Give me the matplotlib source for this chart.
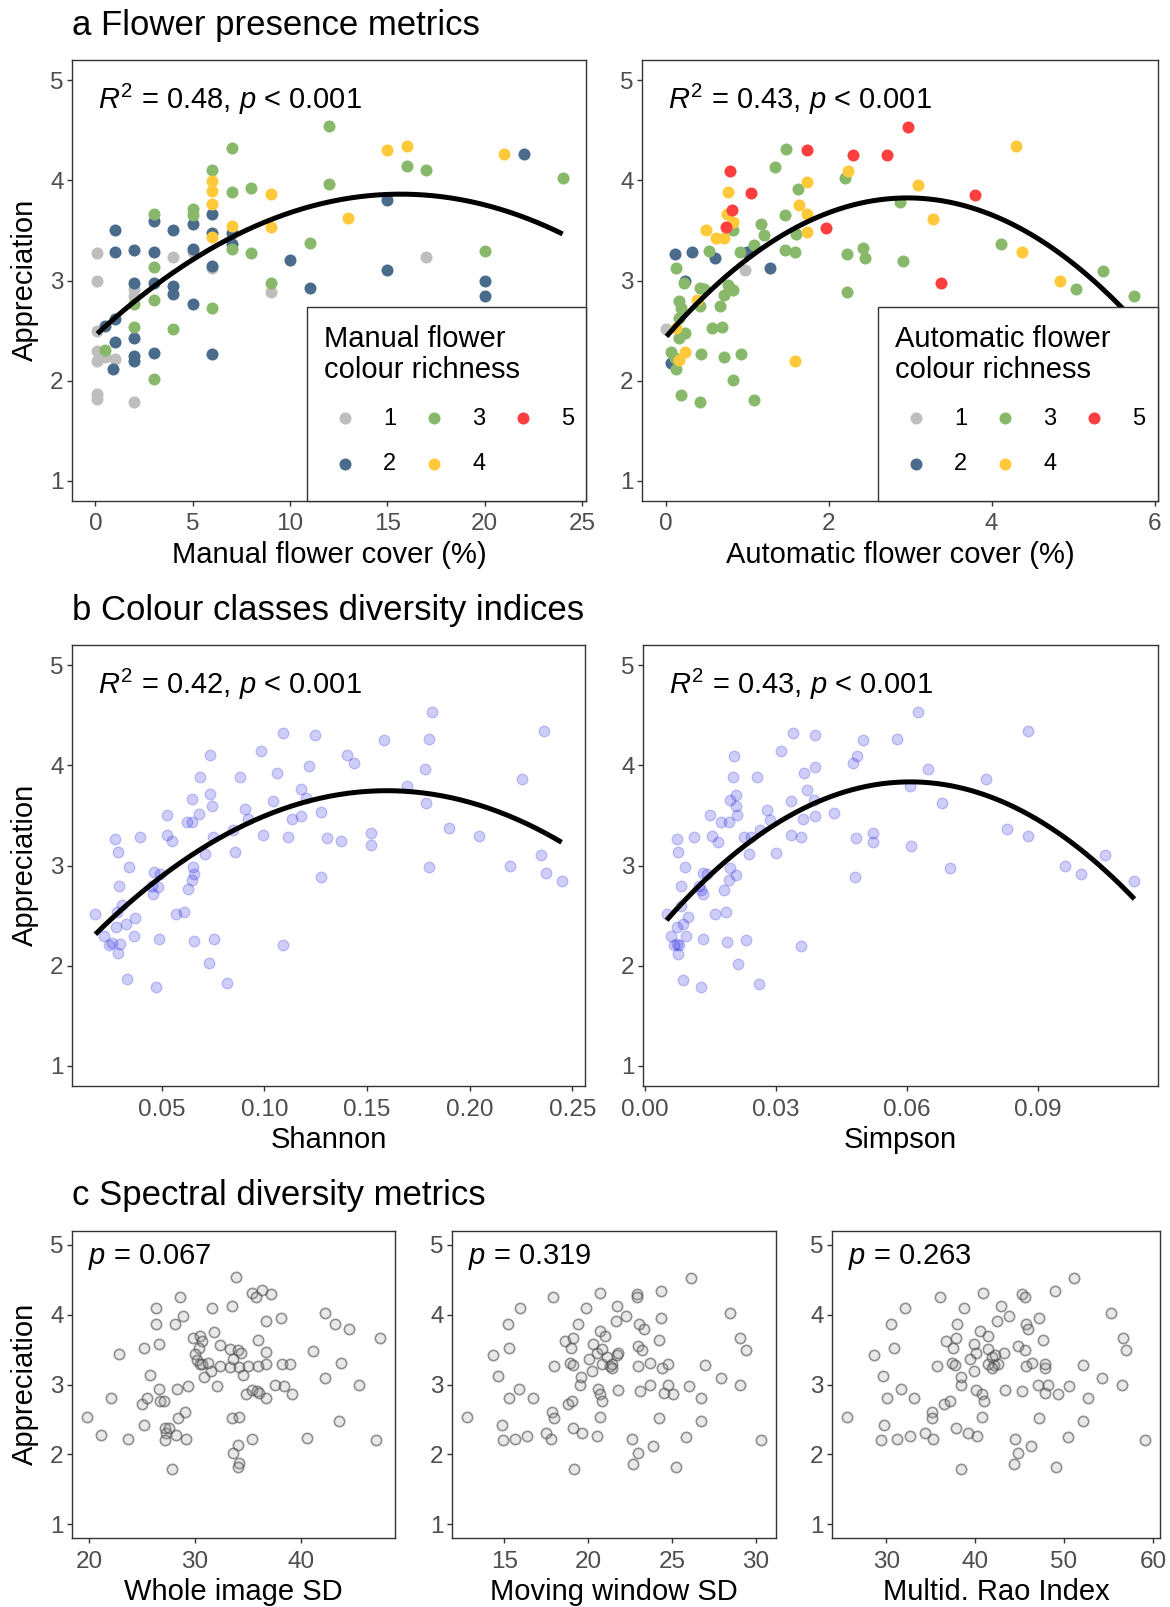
import matplotlib
matplotlib.use('Agg')
import matplotlib.pyplot as plt
from matplotlib.patches import Rectangle
import numpy as np

plt.rcParams['font.family'] = ['Liberation Sans', 'DejaVu Sans']
plt.rcParams['mathtext.fontset'] = 'custom'
plt.rcParams['mathtext.rm'] = 'Liberation Sans'
plt.rcParams['mathtext.it'] = 'Liberation Sans:italic'

# ---- data ---------------------------------------------------------------
# panel a (left): manual flower cover (%) vs appreciation, by colour richness class
manual_pts = {
    1: [(0.1, 3.27), (0.1, 3.0), (0.1, 2.5), (0.1, 2.3), (0.1, 2.2), (0.5, 2.24), (1, 2.22),
        (0.1, 1.87), (0.1, 1.82), (2, 1.79), (2, 2.92), (2, 2.85), (4, 3.23), (5, 3.28),
        (6, 3.12), (9, 2.89), (17, 3.23)],
    2: [(1, 3.5), (1, 3.28), (2, 3.3), (3, 3.28), (3, 3.59), (4, 3.5), (5, 3.56), (5, 3.31),
        (6, 3.66), (6, 3.47), (7, 3.47), (7, 3.36), (6, 3.14), (2, 2.98), (3, 2.98), (4, 2.95),
        (4, 2.87), (5, 2.77), (1, 2.62), (0.5, 2.55), (1, 2.39), (2, 2.43), (2, 2.25), (2, 2.2),
        (3, 2.28), (0.9, 2.12), (6, 2.27), (10, 3.2), (11, 2.93), (15, 3.8), (15, 3.1),
        (20, 3.0), (20, 2.85), (22, 4.26)],
    3: [(3, 3.66), (5, 3.71), (5, 3.65), (6, 4.1), (7, 4.32), (7, 3.88), (8, 3.92), (7, 3.31),
        (8, 3.27), (3, 3.13), (3, 2.81), (2, 2.77), (2, 2.54), (4, 2.52), (6, 2.73), (3, 2.02),
        (0.5, 2.31), (9, 2.98), (11, 3.37), (12, 4.54), (12, 3.96), (16, 4.14), (17, 4.1),
        (20, 3.29), (24, 4.02)],
    4: [(6, 3.99), (6, 3.89), (6, 3.76), (6, 3.43), (7, 3.54), (9, 3.86), (9, 3.53),
        (13, 3.62), (15, 4.3), (16, 4.34), (21, 4.26)],
    5: [],
}

# panel a (right): automatic flower cover (%)
auto_pts = {
    1: [(0.0, 2.52), (0.97, 3.10)],
    2: [(0.12, 3.26), (0.32, 3.28), (0.60, 3.22), (0.24, 3.0), (1.0, 3.28), (1.28, 3.12),
        (0.07, 2.18)],
    3: [(0.13, 3.12), (0.22, 2.98), (0.17, 2.80), (0.19, 2.73), (0.42, 2.93), (0.47, 2.92),
        (0.42, 2.75), (0.53, 3.29), (0.17, 2.63), (0.24, 2.48), (0.17, 2.43), (0.07, 2.29),
        (0.11, 2.23), (0.13, 2.12), (0.19, 1.86), (0.42, 1.79), (0.43, 2.27), (0.57, 2.53),
        (0.69, 2.54), (0.67, 2.75), (0.71, 2.86), (0.76, 2.96), (0.83, 2.91), (0.71, 2.24),
        (0.83, 2.01), (0.93, 2.27), (1.09, 1.81), (0.83, 3.50), (0.91, 3.28), (1.09, 3.35),
        (1.17, 3.56), (1.21, 3.45), (1.34, 4.13), (1.48, 4.31), (1.47, 3.65), (1.62, 3.91),
        (1.60, 3.46), (1.47, 3.30), (1.59, 3.28), (2.20, 4.02), (2.23, 3.26), (2.22, 2.89),
        (2.42, 3.32), (2.44, 3.22), (2.88, 3.78), (2.91, 3.19), (4.11, 3.36), (5.03, 2.92),
        (5.36, 3.09), (5.75, 2.85)],
    4: [(0.77, 3.88), (0.75, 3.66), (0.83, 3.58), (0.50, 3.50), (0.62, 3.42), (0.72, 3.42),
        (0.38, 2.81), (0.13, 2.53), (0.24, 2.29), (0.17, 2.21), (1.73, 3.98), (1.64, 3.75),
        (1.73, 3.66), (1.74, 3.48), (2.24, 4.09), (3.09, 3.95), (3.28, 3.61), (1.59, 2.20),
        (4.30, 4.34), (4.37, 3.28), (4.84, 3.0)],
    5: [(0.79, 4.09), (0.82, 3.70), (0.74, 3.53), (1.05, 3.87), (1.73, 4.30), (2.30, 4.25),
        (2.72, 4.25), (2.97, 4.53), (1.97, 3.52), (3.38, 2.98), (3.79, 3.85)],
}

class_colours = {1: '#BEBEBE', 2: '#4B6B8C', 3: '#88B86A', 4: '#FFC93A', 5: '#FF3E3E'}

# panel b: colour class diversity indices
shannon_pts = [
    (0.0176, 2.52), (0.0273, 3.26), (0.0285, 3.13), (0.0338, 2.99), (0.0293, 2.80),
    (0.0306, 2.61), (0.0281, 2.54), (0.0278, 2.39), (0.0327, 2.42), (0.0367, 2.48),
    (0.0362, 2.30), (0.0217, 2.30), (0.0241, 2.21), (0.0257, 2.23), (0.0294, 2.22),
    (0.0285, 2.13), (0.0330, 1.87), (0.0472, 1.79), (0.0395, 3.28), (0.0484, 2.27),
    (0.0460, 2.94), (0.0489, 2.92), (0.0451, 2.80), (0.0479, 2.79), (0.0456, 2.72),
    (0.0524, 3.50), (0.0524, 3.30), (0.0549, 3.24), (0.0568, 2.52), (0.0609, 2.54),
    (0.0626, 2.77), (0.0646, 3.66), (0.0621, 3.43), (0.0646, 3.43), (0.0686, 3.88),
    (0.0683, 3.51), (0.0654, 2.99), (0.0657, 2.92), (0.0646, 2.86), (0.0657, 2.25),
    (0.0710, 3.11), (0.0735, 4.10), (0.0735, 3.71), (0.0746, 3.59), (0.0751, 3.28),
    (0.0754, 2.27), (0.0732, 2.03), (0.0816, 1.83), (0.0848, 3.35), (0.0856, 3.13),
    (0.0880, 3.88), (0.0905, 3.56), (0.0921, 3.46), (0.0983, 4.14), (0.0991, 3.30),
    (0.1042, 3.64), (0.1062, 3.92), (0.1091, 4.32), (0.1091, 2.21), (0.1115, 3.28),
    (0.1132, 3.46), (0.1177, 3.76), (0.1180, 3.49), (0.1200, 3.67), (0.1217, 3.99),
    (0.1244, 4.30), (0.1274, 3.53), (0.1277, 2.89), (0.1306, 3.27), (0.1371, 3.24),
    (0.1402, 4.10), (0.1436, 4.02), (0.1520, 3.32), (0.1520, 3.20), (0.1582, 4.25),
    (0.1694, 3.79), (0.1783, 3.96), (0.1789, 3.62), (0.1804, 2.99), (0.1804, 4.26),
    (0.1815, 4.53), (0.1898, 3.37), (0.2047, 3.29), (0.2198, 3.00), (0.2254, 3.86),
    (0.2350, 3.10), (0.2363, 4.34), (0.2374, 2.93), (0.2448, 2.85),
]

simpson_pts = [
    (0.0049, 2.52), (0.0073, 3.26), (0.0075, 3.13), (0.0092, 2.99), (0.0081, 2.80),
    (0.0081, 2.60), (0.0098, 2.49), (0.0073, 2.39), (0.0087, 2.42), (0.0059, 2.30),
    (0.0065, 2.21), (0.0074, 2.22), (0.0078, 2.21), (0.0075, 2.12), (0.0094, 2.30),
    (0.0087, 1.86), (0.0129, 1.79), (0.0111, 3.28), (0.0133, 2.27), (0.0132, 2.93),
    (0.0142, 2.92), (0.0124, 2.80), (0.0128, 2.76), (0.0132, 2.72), (0.0148, 3.50),
    (0.0152, 3.29), (0.0167, 3.23), (0.0161, 2.52), (0.0185, 2.54), (0.0181, 2.76),
    (0.0195, 3.65), (0.0173, 3.43), (0.0191, 3.43), (0.0201, 3.88), (0.0211, 3.50),
    (0.0195, 2.98), (0.0209, 2.91), (0.0193, 2.86), (0.0188, 2.24), (0.0238, 3.11),
    (0.0203, 4.09), (0.0209, 3.70), (0.0209, 3.59), (0.0227, 3.28), (0.0242, 3.28),
    (0.0232, 2.26), (0.0212, 2.02), (0.0261, 1.82), (0.0262, 3.35), (0.0299, 3.12),
    (0.0256, 3.88), (0.0278, 3.55), (0.0286, 3.45), (0.0311, 4.14), (0.0335, 3.30),
    (0.0357, 3.28), (0.0335, 3.64), (0.0365, 3.92), (0.0339, 4.32), (0.0357, 2.20),
    (0.0361, 3.46), (0.0370, 3.75), (0.0386, 3.65), (0.0388, 3.49), (0.0388, 3.98),
    (0.0388, 4.30), (0.0432, 3.52), (0.0480, 2.89), (0.0482, 3.27), (0.0521, 3.32),
    (0.0521, 3.23), (0.0477, 4.02), (0.0486, 4.09), (0.0499, 4.25), (0.0578, 4.26),
    (0.0606, 3.79), (0.0608, 3.19), (0.0624, 4.53), (0.0647, 3.96), (0.0681, 3.62),
    (0.0698, 2.98), (0.0781, 3.86), (0.0829, 3.36), (0.0876, 4.34), (0.0878, 3.29),
    (0.0962, 3.00), (0.0998, 2.92), (0.1054, 3.10), (0.1121, 2.85),
]

# panel c: spectral diversity metrics
whole_sd_pts = [
    (19.8, 2.53), (21.1, 2.27), (22.1, 2.80), (22.8, 3.43), (23.7, 2.22), (25.2, 3.53),
    (25.0, 2.72), (25.5, 2.80), (25.2, 2.42), (25.8, 3.13), (26.3, 4.09), (26.3, 3.87),
    (26.6, 3.58), (26.6, 2.93), (26.7, 2.77), (27.1, 2.77), (27.3, 2.30), (27.2, 2.37),
    (27.6, 2.37), (27.2, 2.20), (27.8, 1.79), (28.2, 2.27), (28.3, 2.93), (28.4, 2.52),
    (29.1, 2.61), (28.6, 4.25), (28.1, 3.87), (28.9, 3.98), (29.2, 2.22), (29.4, 2.98),
    (29.8, 3.67), (30.5, 3.70), (30.7, 3.62), (30.4, 3.53), (30.0, 3.43), (30.2, 3.35),
    (30.5, 3.29), (30.7, 3.29), (30.9, 3.11), (31.5, 3.19), (31.2, 3.31), (31.6, 4.09),
    (31.8, 3.75), (32.1, 2.98), (32.4, 3.56), (32.4, 3.26), (33.3, 3.51), (33.3, 3.25),
    (33.5, 4.13), (33.6, 3.37), (34.1, 3.50), (34.4, 3.45), (34.2, 3.25), (34.5, 3.13),
    (35.0, 3.27), (33.9, 4.54), (33.5, 2.52), (34.2, 2.54), (34.1, 2.13), (33.6, 2.02),
    (34.2, 1.87), (34.1, 1.82), (34.8, 2.86), (35.4, 2.92), (35.9, 2.91), (36.1, 2.88),
    (35.4, 2.22), (35.4, 4.31), (36.3, 4.35), (35.8, 4.25), (37.2, 4.30), (36.0, 3.64),
    (36.0, 3.27), (36.7, 3.29), (36.7, 3.91), (36.7, 3.46), (36.7, 2.80), (37.6, 3.00),
    (38.4, 2.98), (39.2, 2.86), (38.1, 3.96), (38.2, 3.29), (39.0, 3.29), (40.6, 2.24),
    (41.2, 3.48), (42.3, 4.02), (42.3, 3.09), (43.2, 3.86), (43.6, 2.48), (43.8, 3.31),
    (44.6, 3.79), (45.5, 3.00), (47.1, 2.21), (47.5, 3.66),
]

moving_sd_pts = [
    (12.76, 2.53), (14.35, 3.42), (14.64, 3.12), (14.84, 2.42), (14.90, 2.20), (15.24, 3.87),
    (15.28, 3.53), (15.30, 2.81), (15.63, 2.22), (15.90, 2.93), (15.93, 4.09), (16.37, 2.26),
    (16.73, 2.81), (17.48, 2.30), (17.76, 2.22), (17.82, 2.61), (17.98, 2.52), (17.92, 4.25),
    (17.96, 3.26), (18.61, 3.62), (18.77, 2.72), (19.01, 2.76), (19.40, 3.87), (19.86, 4.09),
    (18.97, 3.52), (19.07, 3.66), (18.90, 3.31), (19.10, 3.28), (19.10, 2.37), (19.17, 1.79),
    (19.50, 2.99), (19.60, 3.11), (19.66, 2.30), (20.06, 3.37), (20.20, 3.19), (20.26, 3.58),
    (20.50, 3.45), (20.70, 3.76), (20.99, 3.70), (20.60, 2.93), (20.73, 2.87), (20.85, 2.76),
    (20.50, 2.26), (20.73, 2.53), (20.69, 4.31), (20.85, 3.51), (20.85, 3.30), (21.10, 3.39),
    (21.30, 3.27), (21.45, 3.30), (21.40, 3.23), (21.65, 3.91), (21.70, 4.12), (21.70, 3.42),
    (21.80, 3.45), (21.75, 2.92), (22.24, 3.98), (22.62, 2.22), (22.68, 1.86), (22.98, 2.02),
    (22.92, 4.30), (22.94, 4.25), (22.98, 3.55), (22.98, 3.26), (23.04, 3.86), (23.18, 3.50),
    (23.08, 2.91), (23.33, 3.79), (23.67, 3.31), (23.71, 2.99), (23.87, 2.12), (24.23, 3.64),
    (24.33, 3.96), (24.42, 3.23), (24.33, 4.34), (24.23, 2.52), (24.50, 2.88), (24.76, 3.30),
    (24.76, 3.00), (25.06, 2.86), (25.22, 1.82), (25.85, 2.25), (26.01, 2.98), (26.15, 4.53),
    (26.75, 2.80), (26.75, 2.48), (26.94, 3.28), (27.94, 3.09), (28.43, 4.02), (29.07, 3.66),
    (29.07, 3.00), (29.42, 3.49), (30.32, 2.21),
]

rao_pts = [
    (25.56, 2.53), (28.60, 3.42), (29.66, 3.12), (29.73, 2.42), (29.43, 2.20), (30.49, 3.87),
    (30.87, 3.53), (30.11, 2.81), (31.18, 2.22), (31.63, 2.93), (32.13, 4.09), (32.66, 2.26),
    (33.07, 2.81), (34.36, 2.30), (35.31, 2.22), (35.12, 2.61), (35.12, 2.52), (36.00, 4.25),
    (35.73, 3.26), (36.76, 3.62), (36.45, 2.72), (37.17, 2.76), (38.73, 4.09), (38.00, 3.87),
    (37.50, 3.52), (37.90, 3.66), (37.40, 3.31), (37.70, 3.28), (37.90, 2.37), (38.39, 1.79),
    (38.39, 2.99), (38.46, 3.11), (39.15, 2.30), (39.41, 3.37), (39.90, 3.19), (39.90, 3.58),
    (40.06, 3.45), (40.55, 3.76), (41.42, 3.70), (40.10, 2.92), (40.74, 2.87), (41.00, 2.76),
    (40.17, 2.26), (40.82, 2.53), (40.93, 4.31), (41.42, 3.51), (41.42, 3.30), (41.88, 3.39),
    (42.18, 3.28), (42.56, 3.29), (41.88, 3.23), (42.45, 3.91), (42.87, 4.12), (42.26, 3.42),
    (43.20, 3.45), (43.40, 2.92), (43.78, 3.98), (44.53, 2.22), (44.35, 1.86), (44.84, 2.02),
    (45.22, 4.30), (45.56, 4.25), (44.84, 3.55), (45.75, 3.26), (45.67, 3.86), (45.98, 3.79),
    (45.56, 3.50), (45.30, 2.91), (46.36, 3.31), (47.04, 2.99), (46.24, 2.12), (47.65, 3.64),
    (47.19, 3.96), (47.84, 3.23), (47.84, 3.29), (48.98, 4.34), (47.19, 2.52), (47.84, 2.88),
    (48.25, 3.00), (49.28, 2.86), (49.09, 1.82), (50.42, 2.25), (50.53, 2.98), (51.10, 4.53),
    (52.69, 2.80), (52.13, 2.48), (52.13, 3.28), (54.33, 3.09), (55.24, 4.02), (56.68, 3.66),
    (56.49, 3.00), (56.98, 3.49), (59.15, 2.21),
]

# points
fit_manual = ([0.1, 3, 7, 12, 15.7, 24], [2.43, 3.0, 3.43, 3.76, 3.86, 3.47])
fit_auto = ([0.01, 1.48, 2.96, 5.62], [2.44, 3.48, 3.82, 2.71])
fit_shannon = ([0.0176, 0.075, 0.161, 0.2448], [2.30, 3.27, 3.72, 3.24])
fit_simpson = ([0.0049, 0.03, 0.0602, 0.1121], [2.44, 3.45, 3.81, 2.67])

W, H = 1170, 1607
fig = plt.figure(figsize=(W / 100, H / 100), dpi=100)


def box_axes(x0, y0, x1, y1):
    return fig.add_axes([x0 / W, 1 - y1 / H, (x1 - x0) / W, (y1 - y0) / H])


def style(ax, xlim, xticks, xfmt, xlabel):
    ax.set_xlim(*xlim)
    ax.set_ylim(0.8, 5.2)
    ax.set_yticks([1, 2, 3, 4, 5])
    ax.set_xticks(xticks)
    ax.set_xticklabels([xfmt.format(t) for t in xticks])
    for sp in ax.spines.values():
        sp.set_color('#333333')
        sp.set_linewidth(1.0)
    ax.tick_params(length=3.5, width=1.0, color='#333333', labelcolor='#4D4D4D',
                   labelsize=17.5, pad=2.5)
    ax.tick_params(axis='x', pad=5.5)
    ax.set_xlabel(xlabel, fontsize=21, labelpad=4)


def draw_fit(ax, fit):
    coef = np.polyfit(fit[0], fit[1], 2)
    xs = np.linspace(min(fit[0]), max(fit[0]), 200)
    ax.plot(xs, np.polyval(coef, xs), color='black', lw=3.6, zorder=4,
            solid_capstyle='butt')


def classed_panel(ax, pts, title):
    for k in [1, 2, 3, 4, 5]:
        if pts[k]:
            xy = np.array(pts[k])
            ax.scatter(xy[:, 0], xy[:, 1], s=75, color=class_colours[k], lw=0, zorder=3)
    # legend frame drawn as a patch, flush with the lower-right corner
    ax.add_patch(Rectangle((0.457, 0.0), 0.543, 0.44, transform=ax.transAxes,
                           facecolor='white', edgecolor='#333333', lw=1.0,
                           zorder=5, clip_on=False))
    handles = [ax.scatter([], [], s=75, color=class_colours[k], lw=0) for k in [1, 2, 3, 4, 5]]
    leg = ax.legend(handles, ['1', '2', '3', '4', '5'], title=title, loc='upper left',
                    bbox_to_anchor=(0.49, 0.40), ncol=3, frameon=False,
                    fontsize=17, title_fontsize=21, handlelength=1.8,
                    handletextpad=0.7, columnspacing=0.72, labelspacing=1.0,
                    borderpad=0, borderaxespad=0, alignment='left')
    leg.get_title().set_multialignment('left')
    leg.get_title().set_linespacing(1.15)
    leg.set_zorder(6)


def annotate(ax, s):
    ax.text(0.05, 0.91, s, transform=ax.transAxes, fontsize=21, va='center', ha='left')


# ---- panel a --------------------------------------------------------------
ax1 = box_axes(72, 60, 586, 501)
classed_panel(ax1, manual_pts, 'Manual flower\ncolour richness')
draw_fit(ax1, fit_manual)
style(ax1, (-1.2, 25.2), [0, 5, 10, 15, 20, 25], '{:g}', 'Manual flower cover (%)')
annotate(ax1, r'$R^2$ = 0.48, $p$ < 0.001')

ax2 = box_axes(642, 60, 1158, 501)
classed_panel(ax2, auto_pts, 'Automatic flower\ncolour richness')
draw_fit(ax2, fit_auto)
style(ax2, (-0.29, 6.04), [0, 2, 4, 6], '{:g}', 'Automatic flower cover (%)')
annotate(ax2, r'$R^2$ = 0.43, $p$ < 0.001')

# ---- panel b --------------------------------------------------------------
ax3 = box_axes(72, 645, 585, 1086)
xy = np.array(shannon_pts)
ax3.scatter(xy[:, 0], xy[:, 1], s=59, color='#2020E0', alpha=0.22, lw=1.0, zorder=3)
draw_fit(ax3, fit_shannon)
style(ax3, (0.0062, 0.2562), [0.05, 0.10, 0.15, 0.20, 0.25], '{:.2f}', 'Shannon')
annotate(ax3, r'$R^2$ = 0.42, $p$ < 0.001')

ax4 = box_axes(643, 645, 1158, 1086)
xy = np.array(simpson_pts)
ax4.scatter(xy[:, 0], xy[:, 1], s=59, color='#2020E0', alpha=0.22, lw=1.0, zorder=3)
draw_fit(ax4, fit_simpson)
style(ax4, (-0.0005, 0.1175), [0.0, 0.03, 0.06, 0.09], '{:.2f}', 'Simpson')
annotate(ax4, r'$R^2$ = 0.43, $p$ < 0.001')

# ---- panel c --------------------------------------------------------------
c_panels = [
    ((72, 1231, 395, 1538), whole_sd_pts, (18.4, 48.9), [20, 30, 40], 'Whole image SD', '0.067'),
    ((452, 1231, 776, 1538), moving_sd_pts, (11.88, 31.2), [15, 20, 25, 30], 'Moving window SD', '0.319'),
    ((832, 1231, 1160, 1538), rao_pts, (23.9, 60.8), [30, 40, 50, 60], 'Multid. Rao Index', '0.263'),
]
for box, pts, xlim, ticks, label, pval in c_panels:
    ax = box_axes(*box)
    xy = np.array(pts)
    ax.scatter(xy[:, 0], xy[:, 1], s=55, facecolors=(0.6, 0.6, 0.6, 0.22),
               edgecolors=(0.3, 0.3, 0.3, 0.6), lw=1.2, zorder=3)
    style(ax, xlim, ticks, '{:g}', label)
    ax.text(0.05, 0.915, r'$p$ = ' + pval, transform=ax.transAxes, fontsize=21,
            va='center', ha='left')

# ---- titles and shared y labels --------------------------------------------
fig.text(72 / W, 1 - 25 / H, 'a Flower presence metrics', fontsize=25, va='center')
fig.text(72 / W, 1 - 611 / H, 'b Colour classes diversity indices', fontsize=25, va='center')
fig.text(72 / W, 1 - 1196 / H, 'c Spectral diversity metrics', fontsize=25, va='center')
for yc in [280, 865, 1384]:
    fig.text(25 / W, 1 - yc / H, 'Appreciation', fontsize=21, rotation=90,
             va='center', ha='center')

fig.savefig('out.png', dpi=100)
